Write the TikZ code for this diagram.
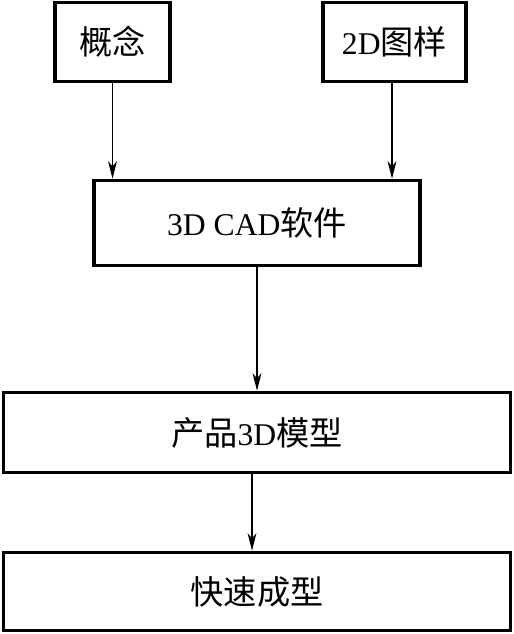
\documentclass[tikz,border=0pt]{standalone}
\usepackage{fontspec}
\setmainfont{Liberation Serif}
\newfontfamily\cjk[Scale=1.05]{Noto Sans CJK SC}
\usepackage{tikz}
\usetikzlibrary{arrows.meta}

\begin{document}
\begin{tikzpicture}[x=0.02cm, y=-0.02cm,
    box/.style={draw, line width=2pt, inner sep=0pt, font=\fontsize{18}{21}\selectfont},
    flow/.style={-{Stealth[length=10pt, width=5pt, inset=3pt]}, line width=0.8pt}]
      \useasboundingbox (0, 0) rectangle (513, 634);
      \node[box, minimum width=2.3cm, minimum height=1.58cm] (idea) at (112.5, 42) {{\cjk 概念}};
      \node[box, minimum width=2.86cm, minimum height=1.58cm] (draft) at (394.5, 42) {2D{\cjk 图样}};
      \node[box, minimum width=6.52cm, minimum height=1.7cm] (cad) at (257, 223) {3D CAD{\cjk 软件}};
      \node[box, minimum width=10.14cm, minimum height=1.6cm] (model) at (257, 432.5) {{\cjk 产品}3D{\cjk 模型}};
      \node[box, minimum width=10.14cm, minimum height=1.56cm] (proto) at (257, 591.5) {{\cjk 快速成型}};
      \draw[flow] (idea.south) -- (idea.south |- cad.north);
      \draw[flow] ([xshift=-0.05cm]draft.south) -- ([xshift=-0.05cm]draft.south |- cad.north);
      \draw[flow] (cad.south) -- (model.north);
      \draw[flow] ([xshift=-0.1cm]model.south) -- ([xshift=-0.1cm]proto.north);
    \end{tikzpicture}
\end{document}
